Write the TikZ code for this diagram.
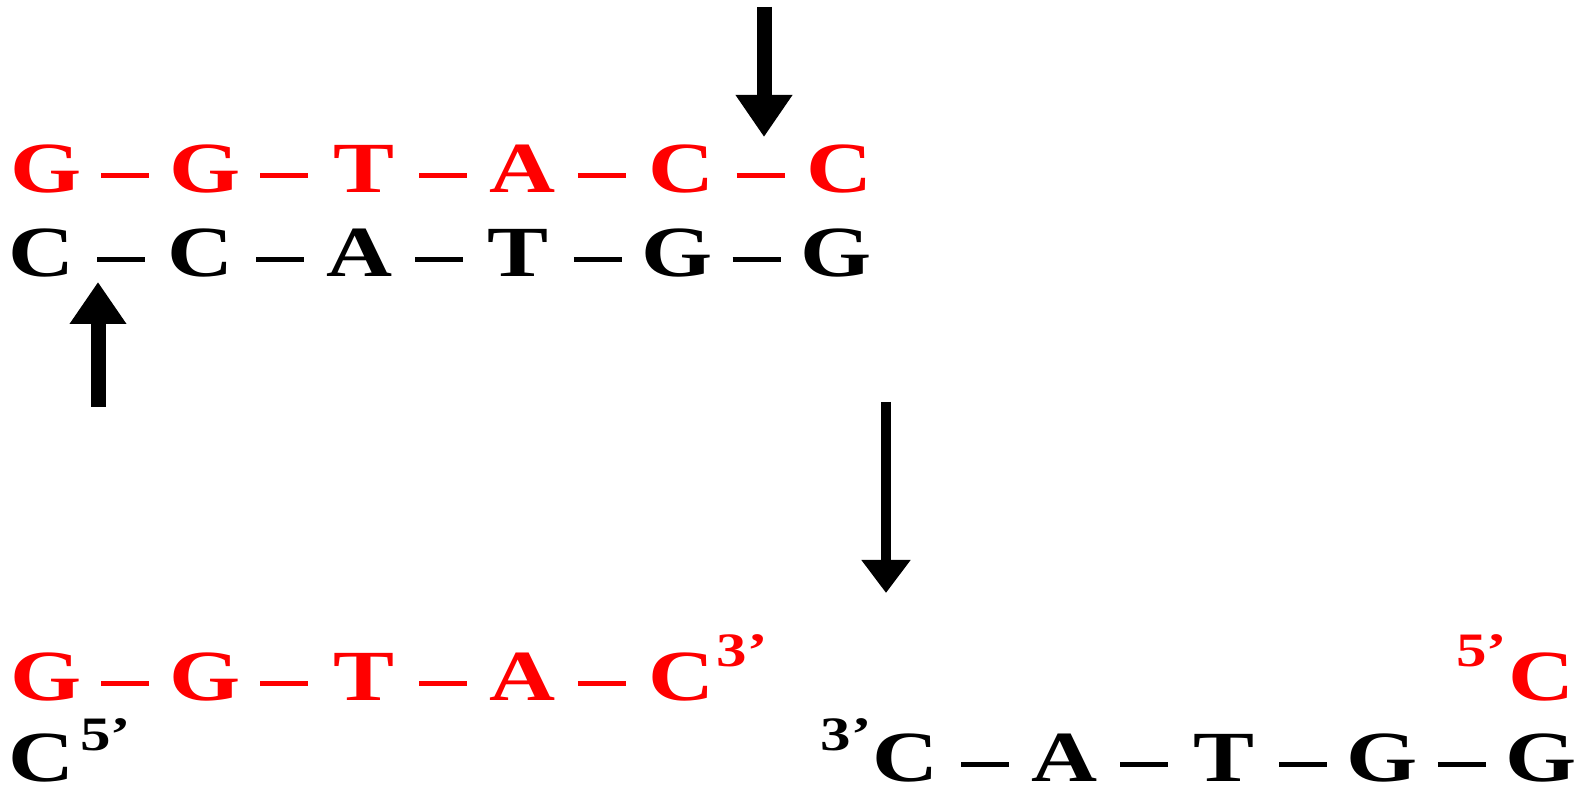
\documentclass[tikz,border=0pt]{standalone}
\usepackage{fontspec}
\setmainfont[FakeStretch=1.27]{Liberation Serif}
\usetikzlibrary{arrows.meta,positioning}
\definecolor{strandred}{RGB}{255,0,0}
\tikzset{
  nuc/.style={font=\fontsize{36}{40}\selectfont\bfseries,inner sep=0pt,minimum width=36pt,text height=17.5pt,text depth=0pt},
  prime/.style={font=\fontsize{24}{28}\selectfont\bfseries,inner sep=0pt},
  bond/.style={line width=2.8pt,shorten <=9.5pt,shorten >=9.5pt},
  cut/.style={-{Triangle[width=27pt,length=21pt]},line width=7.5pt},
}

\begin{document}
\begin{tikzpicture}[x=1pt,y=1pt,node distance=43pt]
  \useasboundingbox (0,0) rectangle (789.5,393.5);
  % duplex before cutting
  \node[nuc,text=strandred,anchor=base] (t1) at (23,297) {G};
  \node[nuc,text=strandred,right=of t1] (t2) {G};
  \node[nuc,text=strandred,right=of t2] (t3) {T};
  \node[nuc,text=strandred,right=of t3] (t4) {A};
  \node[nuc,text=strandred,right=of t4] (t5) {C};
  \node[nuc,text=strandred,right=of t5] (t6) {C};
  \node[nuc,anchor=base] (u1) at (21,255) {C};
  \node[nuc,right=of u1] (u2) {C};
  \node[nuc,right=of u2] (u3) {A};
  \node[nuc,right=of u3] (u4) {T};
  \node[nuc,right=of u4] (u5) {G};
  \node[nuc,right=of u5] (u6) {G};
  \draw[bond,strandred] (t1) edge (t2) (t2) edge (t3) (t3) edge (t4) (t4) edge (t5) (t5) edge (t6);
  \draw[bond] (u1) edge (u2) (u2) edge (u3) (u3) edge (u4) (u4) edge (u5) (u5) edge (u6);
  % cut sites
  \coordinate (topcutA) at (382,390);
  \coordinate (topcutB) at (382,325);
  \coordinate (botcutA) at (49,190);
  \coordinate (botcutB) at (49,252.5);
  \draw[cut] (topcutA) -- (topcutB);
  \draw[cut] (botcutA) -- (botcutB);
  % result
  \coordinate (resA) at (443,192.5);
  \coordinate (resB) at (443,97);
  \draw[-{Triangle[width=23.5pt,length=16.5pt]},line width=5pt] (resA) -- (resB);
  % fragments after cutting
  \node[nuc,text=strandred,anchor=base] (b1) at (23,43) {G};
  \node[nuc,text=strandred,right=of b1] (b2) {G};
  \node[nuc,text=strandred,right=of b2] (b3) {T};
  \node[nuc,text=strandred,right=of b3] (b4) {A};
  \node[nuc,text=strandred,right=of b4] (b5) {C};
  \node[prime,text=strandred,anchor=base west] (b5end) at ([shift={(17.5pt,17pt)}]b5.base) {3’};
  \draw[bond,strandred] (b1) edge (b2) (b2) edge (b3) (b3) edge (b4) (b4) edge (b5);
  \node[nuc,anchor=base] (l1) at (21,2.5) {C};
  \node[prime,anchor=base west] (l1end) at ([shift={(19pt,16pt)}]l1.base) {5’};
  \node[nuc,anchor=base] (r1) at (453,2.5) {C};
  \node[nuc,right=of r1] (r2) {A};
  \node[nuc,right=of r2] (r3) {T};
  \node[nuc,right=of r3] (r4) {G};
  \node[nuc,right=of r4] (r5) {G};
  \node[prime,anchor=base east] (r1end) at ([shift={(-17pt,16pt)}]r1.base) {3’};
  \draw[bond] (r1) edge (r2) (r2) edge (r3) (r3) edge (r4) (r4) edge (r5);
  \node[nuc,text=strandred,anchor=base] (s1) at (770.75,43) {C};
  \node[prime,text=strandred,anchor=base east] (s1end) at ([shift={(-17pt,17pt)}]s1.base) {5’};
\end{tikzpicture}
\end{document}
